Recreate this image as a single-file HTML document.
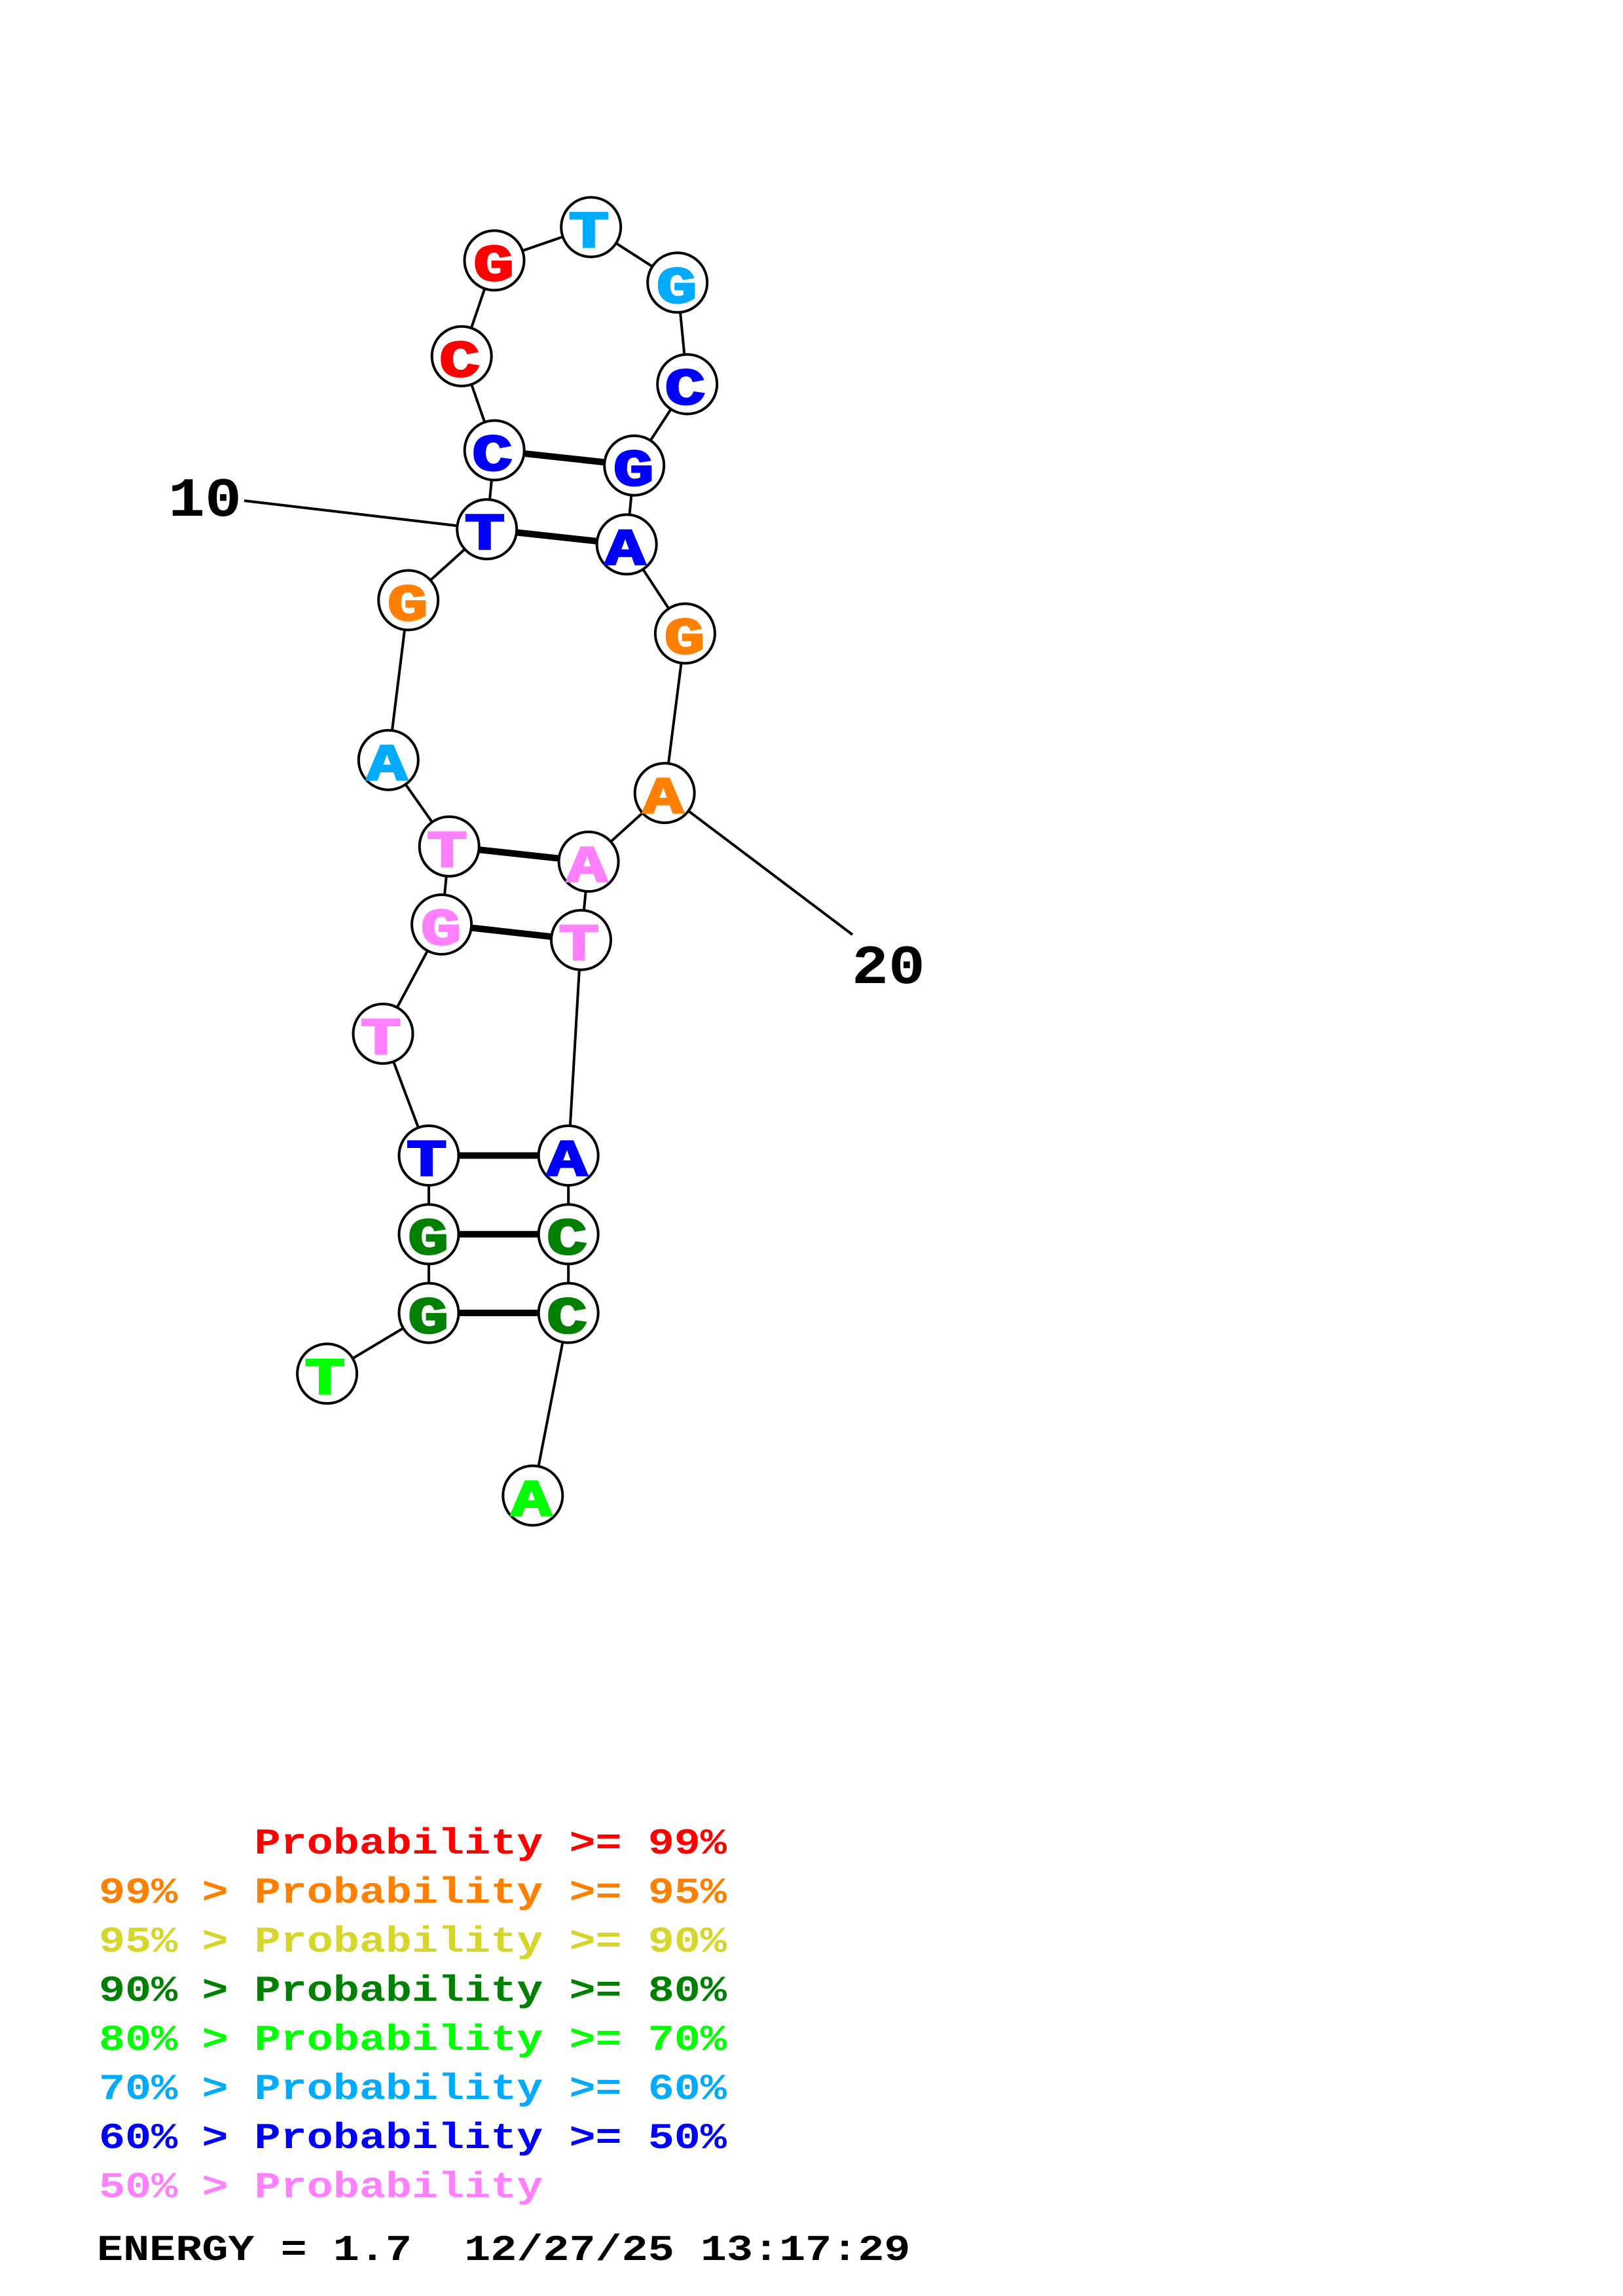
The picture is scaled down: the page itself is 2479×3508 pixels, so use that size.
<!DOCTYPE html>
<html><head><meta charset="utf-8"><style>
html,body{margin:0;padding:0;background:#fff}
svg{display:block}
text{font-family:"Liberation Mono",monospace;font-weight:bold;white-space:pre}
.n{font-size:79px;text-anchor:middle}
.l{font-size:56px}
.d{font-size:84px;fill:#000}
</style></head><body>
<svg width="2479" height="3508" viewBox="0 0 2479 3508" xmlns="http://www.w3.org/2000/svg">
<rect width="2479" height="3508" fill="#fff"/>
<polyline fill="none" stroke="#000" stroke-width="4" points="499.6,2098.8 655,2006 655,1885.7 655,1765.5 585,1579.4 674.6,1412.5 686.2,1293.3 593.3,1161.2 623.7,917 743.7,808.6 755.2,688 705.2,544.3 755,397.9 902.7,347 1034.7,431.8 1049.7,587 968.7,711.2 957.2,831.8 1046.4,967.9 1015.2,1211.6 899.1,1316.5 887.5,1436.2 868.2,1765.5 868.2,1885.7 868.2,2006 813.8,2285"/>
<line x1="373" y1="765" x2="743.7" y2="808.6" stroke="#000" stroke-width="4"/>
<line x1="1015.2" y1="1211.6" x2="1302" y2="1428" stroke="#000" stroke-width="4"/>
<g stroke="#000" stroke-width="10">
<line x1="755.2" y1="688" x2="968.7" y2="711.2"/>
<line x1="743.7" y1="808.6" x2="957.2" y2="831.8"/>
<line x1="686.2" y1="1293.3" x2="899.1" y2="1316.5"/>
<line x1="674.6" y1="1412.5" x2="887.5" y2="1436.2"/>
<line x1="655" y1="1765.5" x2="868.2" y2="1765.5"/>
<line x1="655" y1="1885.7" x2="868.2" y2="1885.7"/>
<line x1="655" y1="2006" x2="868.2" y2="2006"/>
</g>
<g fill="#fff" stroke="#000" stroke-width="4">
<circle cx="499.6" cy="2098.8" r="45.5"/>
<circle cx="655" cy="2006" r="45.5"/>
<circle cx="655" cy="1885.7" r="45.5"/>
<circle cx="655" cy="1765.5" r="45.5"/>
<circle cx="585" cy="1579.4" r="45.5"/>
<circle cx="674.6" cy="1412.5" r="45.5"/>
<circle cx="686.2" cy="1293.3" r="45.5"/>
<circle cx="593.3" cy="1161.2" r="45.5"/>
<circle cx="623.7" cy="917" r="45.5"/>
<circle cx="743.7" cy="808.6" r="45.5"/>
<circle cx="755.2" cy="688" r="45.5"/>
<circle cx="705.2" cy="544.3" r="45.5"/>
<circle cx="755" cy="397.9" r="45.5"/>
<circle cx="902.7" cy="347" r="45.5"/>
<circle cx="1034.7" cy="431.8" r="45.5"/>
<circle cx="1049.7" cy="587" r="45.5"/>
<circle cx="968.7" cy="711.2" r="45.5"/>
<circle cx="957.2" cy="831.8" r="45.5"/>
<circle cx="1046.4" cy="967.9" r="45.5"/>
<circle cx="1015.2" cy="1211.6" r="45.5"/>
<circle cx="899.1" cy="1316.5" r="45.5"/>
<circle cx="887.5" cy="1436.2" r="45.5"/>
<circle cx="868.2" cy="1765.5" r="45.5"/>
<circle cx="868.2" cy="1885.7" r="45.5"/>
<circle cx="868.2" cy="2006" r="45.5"/>
<circle cx="813.8" cy="2285" r="45.5"/>
</g>
<g stroke-width="3" transform="translate(0,-1)">
<text class="n" fill="#00ff00" stroke="#00ff00" transform="translate(496.3,2129.8) scale(1.3,1)">T</text>
<text class="n" fill="#008000" stroke="#008000" transform="translate(654,2037) scale(1.3,1)">G</text>
<text class="n" fill="#008000" stroke="#008000" transform="translate(654,1916.7) scale(1.3,1)">G</text>
<text class="n" fill="#0000ff" stroke="#0000ff" transform="translate(651.7,1796.5) scale(1.3,1)">T</text>
<text class="n" fill="#ff80ff" stroke="#ff80ff" transform="translate(581.7,1610.4) scale(1.3,1)">T</text>
<text class="n" fill="#ff80ff" stroke="#ff80ff" transform="translate(673.6,1443.5) scale(1.3,1)">G</text>
<text class="n" fill="#ff80ff" stroke="#ff80ff" transform="translate(682.9,1324.3) scale(1.3,1)">T</text>
<text class="n" fill="#00aaff" stroke="#00aaff" transform="translate(591,1192.2) scale(1.3,1)">A</text>
<text class="n" fill="#ff8000" stroke="#ff8000" transform="translate(622.7,948) scale(1.3,1)">G</text>
<text class="n" fill="#0000ff" stroke="#0000ff" transform="translate(740.4,839.6) scale(1.3,1)">T</text>
<text class="n" fill="#0000ff" stroke="#0000ff" transform="translate(751.9,719) scale(1.3,1)">C</text>
<text class="n" fill="#ff0000" stroke="#ff0000" transform="translate(701.9,575.3) scale(1.3,1)">C</text>
<text class="n" fill="#ff0000" stroke="#ff0000" transform="translate(754,428.9) scale(1.3,1)">G</text>
<text class="n" fill="#00aaff" stroke="#00aaff" transform="translate(899.4,378) scale(1.3,1)">T</text>
<text class="n" fill="#00aaff" stroke="#00aaff" transform="translate(1033.7,462.8) scale(1.3,1)">G</text>
<text class="n" fill="#0000ff" stroke="#0000ff" transform="translate(1046.4,618) scale(1.3,1)">C</text>
<text class="n" fill="#0000ff" stroke="#0000ff" transform="translate(967.7,742.2) scale(1.3,1)">G</text>
<text class="n" fill="#0000ff" stroke="#0000ff" transform="translate(954.9,862.8) scale(1.3,1)">A</text>
<text class="n" fill="#ff8000" stroke="#ff8000" transform="translate(1045.4,998.9) scale(1.3,1)">G</text>
<text class="n" fill="#ff8000" stroke="#ff8000" transform="translate(1012.9,1242.6) scale(1.3,1)">A</text>
<text class="n" fill="#ff80ff" stroke="#ff80ff" transform="translate(896.8,1347.5) scale(1.3,1)">A</text>
<text class="n" fill="#ff80ff" stroke="#ff80ff" transform="translate(884.2,1467.2) scale(1.3,1)">T</text>
<text class="n" fill="#0000ff" stroke="#0000ff" transform="translate(865.9,1796.5) scale(1.3,1)">A</text>
<text class="n" fill="#008000" stroke="#008000" transform="translate(865.9,1916.7) scale(1.3,1)">C</text>
<text class="n" fill="#008000" stroke="#008000" transform="translate(865.9,2037) scale(1.3,1)">C</text>
<text class="n" fill="#00ff00" stroke="#00ff00" transform="translate(811.5,2316) scale(1.3,1)">A</text>
</g>
<text class="d" transform="translate(257,788) scale(1.11,1)">10</text>
<text class="d" transform="translate(1301,1502) scale(1.11,1)">20</text>
<text class="l" fill="#ff0000" transform="translate(148,2832) scale(1.193,1)">      Probability &gt;= 99%</text>
<text class="l" fill="#ff8000" transform="translate(148,2907) scale(1.193,1)"><tspan dx="2.5">99%</tspan><tspan dx="-2.5"> &gt; Probability &gt;= 95%</tspan></text>
<text class="l" fill="#d5d52b" transform="translate(148,2982) scale(1.193,1)"><tspan dx="2.5">95%</tspan><tspan dx="-2.5"> &gt; Probability &gt;= 90%</tspan></text>
<text class="l" fill="#008000" transform="translate(148,3057) scale(1.193,1)"><tspan dx="2.5">90%</tspan><tspan dx="-2.5"> &gt; Probability &gt;= 80%</tspan></text>
<text class="l" fill="#00ff00" transform="translate(148,3132) scale(1.193,1)"><tspan dx="2.5">80%</tspan><tspan dx="-2.5"> &gt; Probability &gt;= 70%</tspan></text>
<text class="l" fill="#00aaff" transform="translate(148,3207) scale(1.193,1)"><tspan dx="2.5">70%</tspan><tspan dx="-2.5"> &gt; Probability &gt;= 60%</tspan></text>
<text class="l" fill="#0000ff" transform="translate(148,3282) scale(1.193,1)"><tspan dx="2.5">60%</tspan><tspan dx="-2.5"> &gt; Probability &gt;= 50%</tspan></text>
<text class="l" fill="#ff80ff" transform="translate(148,3357) scale(1.193,1)"><tspan dx="2.5">50%</tspan><tspan dx="-2.5"> &gt; Probability</tspan></text>
<text class="l" fill="#000" transform="translate(148,3453) scale(1.193,1)">ENERGY = 1.7  12/27/25 13:17:29</text>
</svg>
</body></html>
